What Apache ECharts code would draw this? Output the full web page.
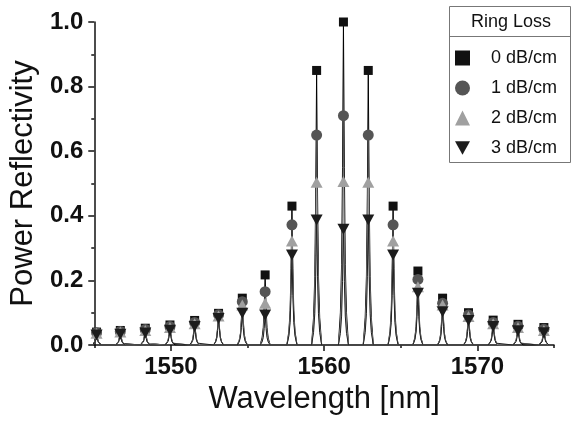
<!DOCTYPE html>
<html>
<head>
<meta charset="utf-8">
<script src="https://cdn.jsdelivr.net/npm/echarts@6/dist/echarts.min.js"></script>
<style>
  html, body { margin: 0; padding: 0; background: #fff; }
  #main { width: 573px; height: 422px; }
</style>
</head>
<body>
<div id="main"></div>
<script>
// resonance peak positions (nm) and peak reflectivity per ring loss
var wavelengths = [1545.15, 1546.70, 1548.33, 1549.94, 1551.55, 1553.11, 1554.66, 1556.15, 1557.90, 1559.51,
                   1561.26, 1562.88, 1564.50, 1566.12, 1567.73, 1569.42, 1571.03, 1572.65, 1574.34];
var loss0 = [0.040, 0.045, 0.052, 0.062, 0.076, 0.098, 0.145, 0.217, 0.430, 0.850,
             1.000, 0.850, 0.430, 0.229, 0.145, 0.100, 0.077, 0.064, 0.054];
var loss1 = [0.038, 0.042, 0.048, 0.057, 0.070, 0.094, 0.134, 0.165, 0.372, 0.650,
             0.710, 0.650, 0.372, 0.203, 0.129, 0.093, 0.070, 0.058, 0.049];
var loss2 = [0.036, 0.040, 0.045, 0.054, 0.066, 0.090, 0.124, 0.129, 0.322, 0.504,
             0.506, 0.504, 0.322, 0.180, 0.124, 0.088, 0.066, 0.054, 0.045];
var loss3 = [0.031, 0.033, 0.037, 0.046, 0.057, 0.082, 0.098, 0.093, 0.279, 0.387,
             0.358, 0.387, 0.279, 0.160, 0.103, 0.076, 0.057, 0.044, 0.038];
var seriesNames = ['0 dB/cm', '1 dB/cm', '2 dB/cm', '3 dB/cm'];
var yTicks = [0, 0.2, 0.4, 0.6, 0.8, 1.0];
var xTicks = [1550, 1560, 1570];
var xMinorTicks = [1545, 1555, 1565, 1575];

// shape of one resonance line (offset nm, fraction of peak)
var lineShape = [[-0.33, 0], [-0.2, 0.1], [-0.12, 0.25], [-0.06, 0.55], [0, 1],
                 [0.06, 0.55], [0.12, 0.25], [0.2, 0.1], [0.33, 0]];

var downTri = 'path://M0,0L10,0L5,9Z';
var font = 'Liberation Sans, Arial, sans-serif';

function spectrum(vals){
  var out = [];
  wavelengths.forEach(function(w, i){
    lineShape.forEach(function(p){
      out.push([w + p[0], vals[i] * p[1]]);
    });
  });
  return out;
}
function points(vals){
  return wavelengths.map(function(w, i){ return [w, vals[i]]; });
}

var allVals = [loss0, loss1, loss2, loss3];
var colors = ['#111111', '#555555', '#a0a0a0', '#1c1c1c'];
var lineColors = ['#000000', '#4a4a4a', '#9a9a9a', '#222222'];
var symbols = ['rect', 'circle', 'triangle', downTri];
var sizes = [9, 11, [12, 11], [12, 11]];

var series = [];
allVals.forEach(function(v, k){
  series.push({
    name: seriesNames[k] + ' line',
    type: 'line',
    data: spectrum(v),
    showSymbol: false,
    silent: true,
    z: 2,
    lineStyle: { color: lineColors[k], width: 1 }
  });
});
allVals.forEach(function(v, k){
  series.push({
    name: seriesNames[k],
    type: 'scatter',
    data: points(v),
    symbol: symbols[k],
    symbolSize: sizes[k],
    z: 3,
    itemStyle: { color: colors[k], opacity: 1 }
  });
});

var chart = echarts.init(document.getElementById('main'));
chart.setOption({
  animation: false,
  backgroundColor: '#fff',
  textStyle: { fontFamily: font },
  grid: { left: 91, right: 19, top: 22, bottom: 77 },
  legend: {
    orient: 'vertical',
    left: 450,
    top: 44,
    itemWidth: 15,
    itemHeight: 15,
    itemGap: 12,
    textStyle: { fontSize: 18, lineHeight: 15, color: '#111', fontFamily: font, padding: [0, 0, 0, 16] },
    data: [
      { name: seriesNames[0], icon: 'rect' },
      { name: seriesNames[1], icon: 'circle' },
      { name: seriesNames[2], icon: 'triangle' },
      { name: seriesNames[3], icon: downTri }
    ]
  },
  graphic: [
    { type: 'rect', shape: { x: 449.5, y: 6.5, width: 121, height: 156 },
      style: { fill: 'none', stroke: '#777', lineWidth: 1 }, z: 10 },
    { type: 'line', shape: { x1: 449.5, y1: 36.5, x2: 570.5, y2: 36.5 },
      style: { stroke: '#777', lineWidth: 1 }, z: 10 },
    { type: 'text', x: 511, y: 22, z: 10,
      style: { text: 'Ring Loss', fontSize: 18, fontFamily: font, fill: '#111',
               textAlign: 'center', textVerticalAlign: 'middle' } }
  ],
  xAxis: [{
    type: 'value',
    min: 1545,
    max: 1575,
    name: 'Wavelength [nm]',
    nameLocation: 'middle',
    nameGap: 39,
    nameTextStyle: { fontSize: 31, color: '#111', fontFamily: font },
    splitLine: { show: false },
    axisLine: { lineStyle: { color: '#111', width: 1.5 } },
    axisTick: { customValues: xTicks, length: 6, lineStyle: { color: '#111', width: 1.5 } },
    axisLabel: { customValues: xTicks, margin: 10, fontSize: 24, fontWeight: 'bold',
                 color: '#111', fontFamily: font,
                 formatter: function(v){ return String(Math.round(v)); } }
  }, {
    type: 'value',
    min: 1545,
    max: 1575,
    position: 'bottom',
    splitLine: { show: false },
    axisLine: { show: false },
    axisTick: { customValues: xMinorTicks, length: 3, lineStyle: { color: '#111', width: 1.5 } },
    axisLabel: { show: false }
  }],
  yAxis: {
    type: 'value',
    min: 0,
    max: 1,
    interval: 0.2,
    name: 'Power Reflectivity',
    nameLocation: 'middle',
    nameGap: 52,
    nameTextStyle: { fontSize: 31, color: '#111', fontFamily: font },
    splitLine: { show: false },
    axisLine: { show: true, lineStyle: { color: '#111', width: 1.5 } },
    axisTick: { show: true, length: 6, lineStyle: { color: '#111', width: 1.5 } },
    minorTick: { show: true, splitNumber: 2, length: 3, lineStyle: { color: '#111', width: 1.5 } },
    axisLabel: {
      margin: 11, fontSize: 24, fontWeight: 'bold', color: '#111', fontFamily: font,
      formatter: function(v){
        var t = yTicks.filter(function(y){ return Math.abs(y - v) < 1e-9; });
        return t.length ? t[0].toFixed(1) : '';
      }
    }
  },
  series: series
});
</script>
</body>
</html>
